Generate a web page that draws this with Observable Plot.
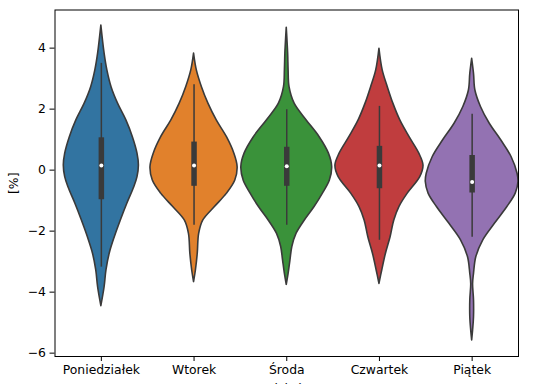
<!DOCTYPE html>
<html>
<head>
<meta charset="utf-8">
<script src="https://cdn.jsdelivr.net/npm/d3@7"></script>
<script src="https://cdn.jsdelivr.net/npm/@observablehq/plot@0.6"></script>
<style>
html, body { margin: 0; padding: 0; background: #fff; overflow: hidden; }
</style>
</head>
<body>
<div id="chart"></div>
<script>
const days = ["Poniedziałek", "Wtorek", "Środa", "Czwartek", "Piątek"];
const colors = ["#3274a1", "#e1812c", "#3a923a", "#c03d3e", "#9372b2"];
const yTicks = [-6, -4, -2, 0, 2, 4];

// violin outlines: value [%] and relative density (1 = widest violin)
const monV = [4.74, 3.82, 3.27, 2.72, 2.18, 1.63, 1.08, 0.54, 0.15, -0.23, -0.56, -1.10, -1.65, -2.20, -2.74, -3.29, -3.84, -4.46];
const monD = [0, 0.07, 0.13, 0.22, 0.36, 0.54, 0.68, 0.78, 0.81, 0.78, 0.71, 0.56, 0.42, 0.29, 0.18, 0.11, 0.07, 0];
const tueV = [3.82, 3.27, 2.72, 2.18, 1.63, 1.08, 0.54, 0.10, -0.34, -0.77, -1.21, -1.65, -2.09, -2.74, -3.29, -3.67];
const tueD = [0, 0.06, 0.17, 0.31, 0.49, 0.71, 0.87, 0.94, 0.89, 0.71, 0.45, 0.20, 0.11, 0.08, 0.04, 0];
const wedV = [4.67, 3.82, 3.27, 2.72, 2.18, 1.63, 1.08, 0.54, 0.10, -0.34, -0.77, -1.21, -1.65, -2.09, -2.52, -2.96, -3.40, -3.76];
const wedD = [0, 0.03, 0.04, 0.06, 0.17, 0.43, 0.71, 0.91, 0.98, 0.93, 0.78, 0.60, 0.39, 0.21, 0.12, 0.08, 0.04, 0];
const thuV = [3.98, 3.27, 2.72, 2.18, 1.63, 1.08, 0.54, 0.15, -0.23, -0.77, -1.21, -1.65, -2.20, -2.74, -3.29, -3.73];
const thuD = [0, 0.07, 0.18, 0.30, 0.45, 0.65, 0.86, 0.95, 0.88, 0.61, 0.43, 0.32, 0.24, 0.14, 0.06, 0];
const friV = [3.65, 3.16, 2.61, 2.07, 1.52, 0.97, 0.43, -0.12, -0.39, -0.77, -1.21, -1.76, -2.30, -2.85, -3.40, -3.73, -4.27, -4.82, -5.26, -5.58];
const friD = [0, 0.04, 0.07, 0.19, 0.38, 0.63, 0.85, 0.98, 1.0, 0.94, 0.76, 0.49, 0.24, 0.09, 0.04, 0.02, 0.04, 0.04, 0.02, 0];

// inner box statistics
const q1 = [-0.97, -0.53, -0.53, -0.61, -0.75];
const q3 = [1.06, 0.92, 0.75, 0.78, 0.48];
const median = [0.15, 0.15, 0.13, 0.15, -0.39];
const whiskerLo = [-3.18, -1.81, -1.81, -2.30, -2.20];
const whiskerHi = [3.50, 2.80, 1.98, 2.09, 1.83];

const outlines = [[monV, monD], [tueV, tueD], [wedV, wedD], [thuV, thuD], [friV, friD]];
const violin = outlines.flatMap(([vs, ds], i) => vs.map((v, j) => ({day: i, name: days[i], v, d: ds[j]})));
const stats = days.map((name, i) => ({day: i, name, q1: q1[i], q3: q3[i], med: median[i], lo: whiskerLo[i], hi: whiskerHi[i]}));

const half = 0.5;
const gray = "#3a3a3a";
const font = "DejaVu Sans, sans-serif";

const chart = Plot.plot({
  width: 540,
  height: 384,
  marginLeft: 54.5,
  marginRight: 22,
  marginTop: 9.5,
  marginBottom: 28,
  style: {fontFamily: font, fontSize: "12.4px", color: "#000", background: "#fff"},
  x: {type: "linear", domain: [-0.5, 4.5]},
  y: {domain: [-6.11, 5.25]},
  color: {type: "ordinal", domain: days, range: colors},
  marks: [
    Plot.areaX(violin, {
      y: "v",
      x1: r => r.day - r.d * half,
      x2: r => r.day + r.d * half,
      z: "name",
      fill: "name",
      stroke: gray,
      strokeWidth: 1.6,
      curve: "catmull-rom"
    }),
    Plot.ruleX(stats, {x: "day", y1: "lo", y2: "hi", stroke: gray, strokeWidth: 1.5}),
    Plot.ruleX(stats, {x: "day", y1: "q1", y2: "q3", stroke: gray, strokeWidth: 5.5}),
    Plot.dot(stats, {x: "day", y: "med", r: 2, fill: "#fff", stroke: null}),
    Plot.frame({stroke: "#000", strokeWidth: 1}),
    Plot.axisY({ticks: yTicks, tickSize: 5, tickPadding: 4, label: null, tickFormat: d3.format("d")}),
    Plot.axisX({ticks: [0, 1, 2, 3, 4], tickSize: 5, tickPadding: 4, label: null, tickFormat: i => days[i]}),
    Plot.text(["[%]"], {frameAnchor: "left", dx: -41, rotate: -90, textAnchor: "middle", lineAnchor: "middle", fontSize: 12.4}),
    Plot.text(["dzień"], {frameAnchor: "bottom", dy: 28, lineAnchor: "top", fontSize: 12.4})
  ]
});
document.getElementById("chart").appendChild(chart);
</script>
</body>
</html>
